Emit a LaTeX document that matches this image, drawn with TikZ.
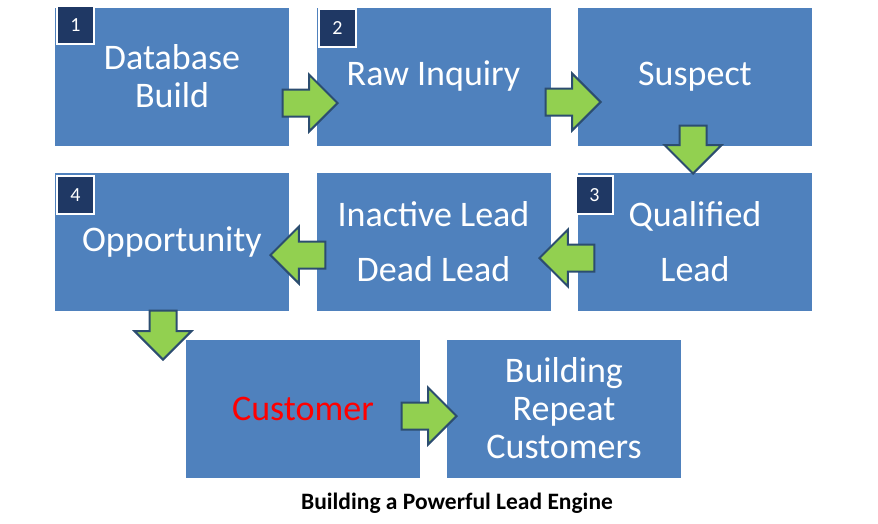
\documentclass[tikz,border=0pt]{standalone}
\usepackage{fontspec}
\setmainfont{Carlito}
\usepackage{xcolor}
\usetikzlibrary{calc, shapes, arrows}
\definecolor{boxblue}{HTML}{4F81BD}
\definecolor{badgenavy}{HTML}{1F3864}
\definecolor{arrowgreen}{HTML}{92D050}
\definecolor{arrowedge}{HTML}{2C4D70}
\newcommand{\stagefont}{\fontsize{36}{38}\selectfont}
\newcommand{\badgefont}{\fontsize{20}{22}\selectfont}
\tikzset{
	stagebox/.style={fill=boxblue, minimum width=234pt, minimum height=138pt, inner sep=0pt, align=center, text=white, font=\stagefont},
	numbadge/.style={fill=badgenavy, draw=white, line width=1.5pt, minimum width=37pt, minimum height=38pt, inner sep=0pt, text=white, font=\badgefont},
	flowarrow/.style={single arrow, fill=arrowgreen, draw=arrowedge, line width=2pt, minimum height=55pt, inner xsep=0pt, inner ysep=12.5pt, single arrow head extend=15pt, single arrow tip angle=90, anchor=tip}
}
\begin{document}
\begin{tikzpicture}[x=1pt,y=-1pt]
				\useasboundingbox (0,0) rectangle (878,523);
				%Centres of the stages
				\coordinate (center1) at (172.0,76.5);
				\coordinate (center2) at (433.5,76.5);
				\coordinate (center3) at (695.0,76.5);
				\coordinate (center4) at (172.0,242.0);
				\coordinate (center5) at (433.5,242.0);
				\coordinate (center6) at (695.0,242.0);
				\coordinate (center7) at (303.0,408.5);
				\coordinate (center8) at (564.0,408.5);
				%The stages
				\node [stagebox] (database) at (center1) {Database\\Build};
				\node [stagebox] (raw) at (center2) {Raw Inquiry};
				\node [stagebox] (suspect) at (center3) {Suspect};
				\node [stagebox] (opportunity) at (center4) {Opportunity};
				\node [stagebox] (inactive) at (center5) {Inactive Lead\\[17pt]Dead Lead};
				\node [stagebox] (qualified) at (center6) {Qualified\\[17pt]Lead};
				\node [stagebox, text=red] (customer) at (center7) {Customer};
				\node [stagebox] (repeat) at (center8) {Building\\Repeat\\Customers};
				%Numbers in the corners
				\node [numbadge] (num1) at (75.5,25.0) {1};
				\node [numbadge] (num2) at (337.5,28.0) {2};
				\node [numbadge] (num3) at (594.5,195.0) {3};
				\node [numbadge] (num4) at (75.5,195.0) {4};
				%Tips of the arrows
				\coordinate (tip12) at (339.0,103.0);
				\coordinate (tip23) at (602.0,102.0);
				\coordinate (tip36) at (693.0,175.0);
				\coordinate (tip65) at (538.0,258.0);
				\coordinate (tip54) at (269.0,255.0);
				\coordinate (tip47) at (163.0,361.0);
				\coordinate (tip78) at (458.0,416.0);
				%Arrows between the stages
				\node [flowarrow] (a12) at (tip12) {};
				\node [flowarrow] (a23) at (tip23) {};
				\node [flowarrow, minimum height=48pt, rotate=-90] (a36) at (tip36) {};
				\node [flowarrow, rotate=180] (a65) at (tip65) {};
				\node [flowarrow, rotate=180] (a54) at (tip54) {};
				\node [flowarrow, minimum height=49pt, rotate=-90] (a47) at (tip47) {};
				\node [flowarrow] (a78) at (tip78) {};
				%Caption
				\node [font=\fontsize{23.5}{26}\selectfont\bfseries] (caption) at (457.0,503.0) {Building a Powerful Lead Engine};
\end{tikzpicture}
\end{document}
